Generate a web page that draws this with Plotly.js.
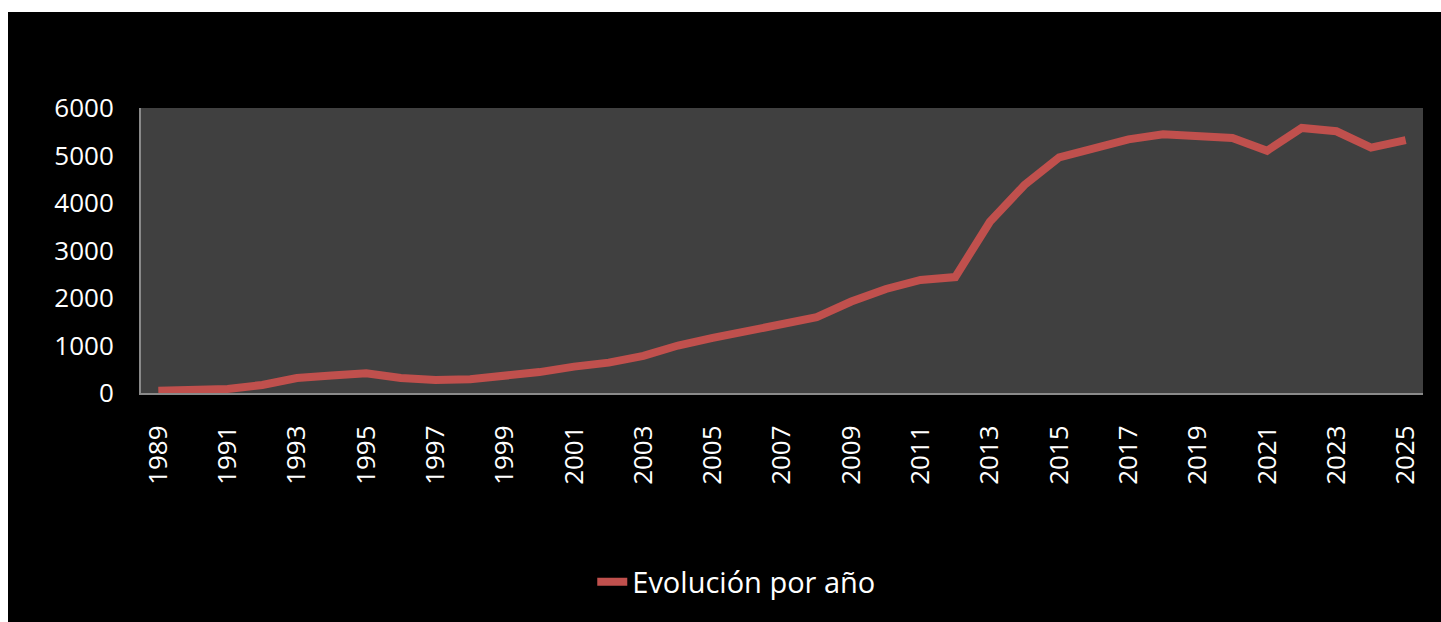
<!DOCTYPE html>
<html>
<head>
<meta charset="utf-8">
<script src="https://cdn.plot.ly/plotly-3.0.1.min.js"></script>
<style>
html,body{margin:0;padding:0;background:#ffffff;width:1441px;height:622px;overflow:hidden;}
#chart{position:absolute;left:8px;top:12px;width:1433px;height:610px;}
</style>
</head>
<body>
<div id="chart"></div>
<script>
const years = [1989,1990,1991,1992,1993,1994,1995,1996,1997,1998,1999,2000,2001,2002,2003,2004,2005,2006,2007,2008,2009,2010,2011,2012,2013,2014,2015,2016,2017,2018,2019,2020,2021,2022,2023,2024,2025];
const values = [50,80,85,170,315,370,415,315,275,290,360,440,555,640,780,1000,1160,1305,1420,1595,1925,2190,2380,2440,3605,4380,4960,5150,5340,5445,5395,5370,5100,5580,5510,5165,5325];
const seriesName = 'Evolución por año';
const yTicks = [0,1000,2000,3000,4000,5000,6000];

const font = 'Open Sans, Noto Sans, sans-serif';
Plotly.newPlot('chart', [{
  x: years, y: values, type: 'scatter', mode: 'lines', name: seriesName,
  line: {color: '#C0504D', width: 8}
}], {
  width: 1433, height: 610,
  margin: {l: 133, r: 18, t: 96, b: 229},
  paper_bgcolor: '#000000', plot_bgcolor: '#404040',
  showlegend: true,
  legend: {x: 0.352, xanchor: 'left', y: -0.663, yanchor: 'middle', orientation: 'h',
           font: {family: font, size: 29, color: '#ffffff'}, bgcolor: 'rgba(0,0,0,0)'},
  xaxis: {range: [years[0]-0.5, years[years.length-1]+0.5], tickmode: 'linear', tick0: 1989, dtick: 2,
          tickangle: -90, showgrid: false, zeroline: false, showline: true, linecolor: '#8a8a8a', linewidth: 2,
          ticks: '', ticklabelstandoff: 20,
          tickfont: {family: font, size: 26, color: '#ffffff'}},
  yaxis: {range: [0, 6000], tickmode: 'array', tickvals: yTicks, ticktext: yTicks.map(String),
          showgrid: false, zeroline: false, showline: true, linecolor: '#8a8a8a', linewidth: 2,
          ticks: '', ticklabelstandoff: 20,
          tickfont: {family: font, size: 26, color: '#ffffff'}}
}, {displayModeBar: false, staticPlot: true});
</script>
</body>
</html>
